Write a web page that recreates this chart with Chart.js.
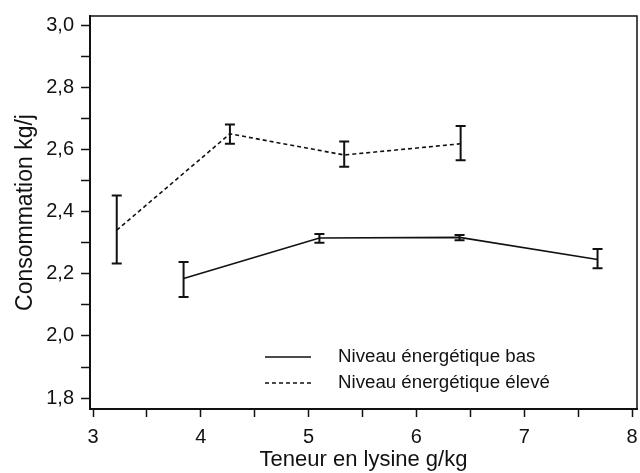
<!DOCTYPE html>
<html>
<head>
<meta charset="utf-8">
<script src="https://cdn.jsdelivr.net/npm/chart.js@4.4.1/dist/chart.umd.min.js"></script>
<style>
  html, body { margin: 0; padding: 0; background: #fff; }
  #wrap { width: 640px; height: 473px; }
</style>
</head>
<body>
<div id="wrap"><canvas id="myChart" width="640" height="473"></canvas></div>
<script>
// lysine content (g/kg) and intake (kg/j)
const basX   = [3.84, 5.10, 6.40, 7.68];
const basY   = [2.185, 2.315, 2.317, 2.246];
const basLo  = [2.125, 2.300, 2.308, 2.218];
const basHi  = [2.238, 2.328, 2.325, 2.280];

const eleveX  = [3.22, 4.27, 5.33, 6.41];
const eleveY  = [2.340, 2.650, 2.582, 2.618];
const eleveLo = [2.233, 2.618, 2.544, 2.565];
const eleveHi = [2.452, 2.680, 2.625, 2.675];

const xTicks = [3, 3.5, 4, 4.5, 5, 5.5, 6, 6.5, 7, 7.5, 8];
const yTicks = [1.8, 1.9, 2.0, 2.1, 2.2, 2.3, 2.4, 2.5, 2.6, 2.7, 2.8, 2.9, 3.0];

const seriesNames = ['Niveau énergétique bas', 'Niveau énergétique élevé'];

const FONT = "'Liberation Sans', Arial, sans-serif";

function pts(xs, ys) {
    return xs.map((x, i) => ({x: x, y: ys[i]}));
}

// error bars, drawn from the data through the scales
const errorBars = {
    id: 'errorBars',
    afterDatasetsDraw(chart) {
        const c = chart.ctx;
        const xs = chart.scales.x, ys = chart.scales.y;
        const sets = [[basX, basLo, basHi], [eleveX, eleveLo, eleveHi]];
        c.save();
        c.strokeStyle = '#111';
        c.lineWidth = 2;
        sets.forEach(s => {
            for (let i = 0; i < s[0].length; i++) {
                const px = xs.getPixelForValue(s[0][i]);
                const top = ys.getPixelForValue(s[2][i]);
                const bot = ys.getPixelForValue(s[1][i]);
                c.beginPath();
                c.moveTo(px, top); c.lineTo(px, bot);
                c.moveTo(px - 5, top); c.lineTo(px + 5, top);
                c.moveTo(px - 5, bot); c.lineTo(px + 5, bot);
                c.stroke();
            }
        });
        c.restore();
    }
};

// frame + legend inside the plot
const frameAndLegend = {
    id: 'frameAndLegend',
    afterDraw(chart) {
        const c = chart.ctx;
        const a = chart.chartArea;
        c.save();
        c.strokeStyle = '#111';
        c.lineWidth = 1.5;
        c.beginPath();
        c.moveTo(a.left, a.top); c.lineTo(a.right, a.top); c.lineTo(a.right, a.bottom);
        c.stroke();

        const lx = a.left + 175, ly = a.top + 341;
        c.lineWidth = 1.5;
        c.beginPath();
        c.moveTo(lx, ly); c.lineTo(lx + 46, ly);
        c.stroke();
        c.setLineDash([4, 3]);
        c.beginPath();
        c.moveTo(lx, ly + 26); c.lineTo(lx + 46, ly + 26);
        c.stroke();
        c.setLineDash([]);
        c.fillStyle = '#111';
        c.font = '18.7px ' + FONT;
        c.textBaseline = 'middle';
        c.fillText(seriesNames[0], lx + 73, ly);
        c.fillText(seriesNames[1], lx + 73, ly + 26);
        c.restore();
    }
};

const ctx = document.getElementById('myChart');

const chart = new Chart(ctx, {
    type: 'scatter',
    data: {
        datasets: [{
            label: seriesNames[0],
            data: pts(basX, basY),
            showLine: true,
            borderColor: '#111',
            borderWidth: 1.6,
            pointRadius: 0,
            tension: 0
        }, {
            label: seriesNames[1],
            data: pts(eleveX, eleveY),
            showLine: true,
            borderColor: '#111',
            borderWidth: 1.6,
            borderDash: [4, 3],
            pointRadius: 0,
            tension: 0
        }]
    },
    options: {
        responsive: false,
        animation: false,
        layout: {
            padding: {top: 16, right: 3, left: 12, bottom: 0}
        },
        plugins: {
            legend: {display: false},
            tooltip: {enabled: false}
        },
        scales: {
            x: {
                type: 'linear',
                min: 2.972,
                max: 8.046,
                afterBuildTicks: s => { s.ticks = xTicks.map(v => ({value: v})); },
                afterFit: s => {
                    s.height = 64;
                    s.paddingLeft = 0;
                    s.paddingRight = 0;
                },
                grid: {
                    drawOnChartArea: false,
                    tickLength: 8,
                    tickWidth: 1.5,
                    tickColor: '#111'
                },
                border: {color: '#111', width: 2},
                ticks: {
                    color: '#111',
                    padding: 8,
                    font: {family: FONT, size: 20},
                    maxRotation: 0,
                    autoSkip: false,
                    callback: v => Number.isInteger(v) ? String(v) : ''
                },
                title: {
                    display: true,
                    text: 'Teneur en lysine g/kg',
                    color: '#111',
                    font: {family: FONT, size: 22},
                    padding: {top: 0, bottom: 0}
                }
            },
            y: {
                type: 'linear',
                min: 1.765,
                max: 3.029,
                afterBuildTicks: s => { s.ticks = yTicks.map(v => ({value: v})); },
                afterFit: s => {
                    s.width = 78;
                    s.paddingTop = 0;
                    s.paddingBottom = 0;
                },
                grid: {
                    drawOnChartArea: false,
                    tickLength: 9,
                    tickWidth: 1.5,
                    tickColor: '#111'
                },
                border: {color: '#111', width: 2},
                ticks: {
                    color: '#111',
                    padding: 7,
                    font: {family: FONT, size: 20},
                    autoSkip: false,
                    callback: v => (Math.round(v * 10) % 2 === 0) ? v.toFixed(1).replace('.', ',') : ''
                },
                title: {
                    display: true,
                    text: 'Consommation kg/j',
                    color: '#111',
                    font: {family: FONT, size: 23},
                    padding: {top: 0, bottom: 0}
                }
            }
        }
    },
    plugins: [errorBars, frameAndLegend]
});
</script>
</body>
</html>
